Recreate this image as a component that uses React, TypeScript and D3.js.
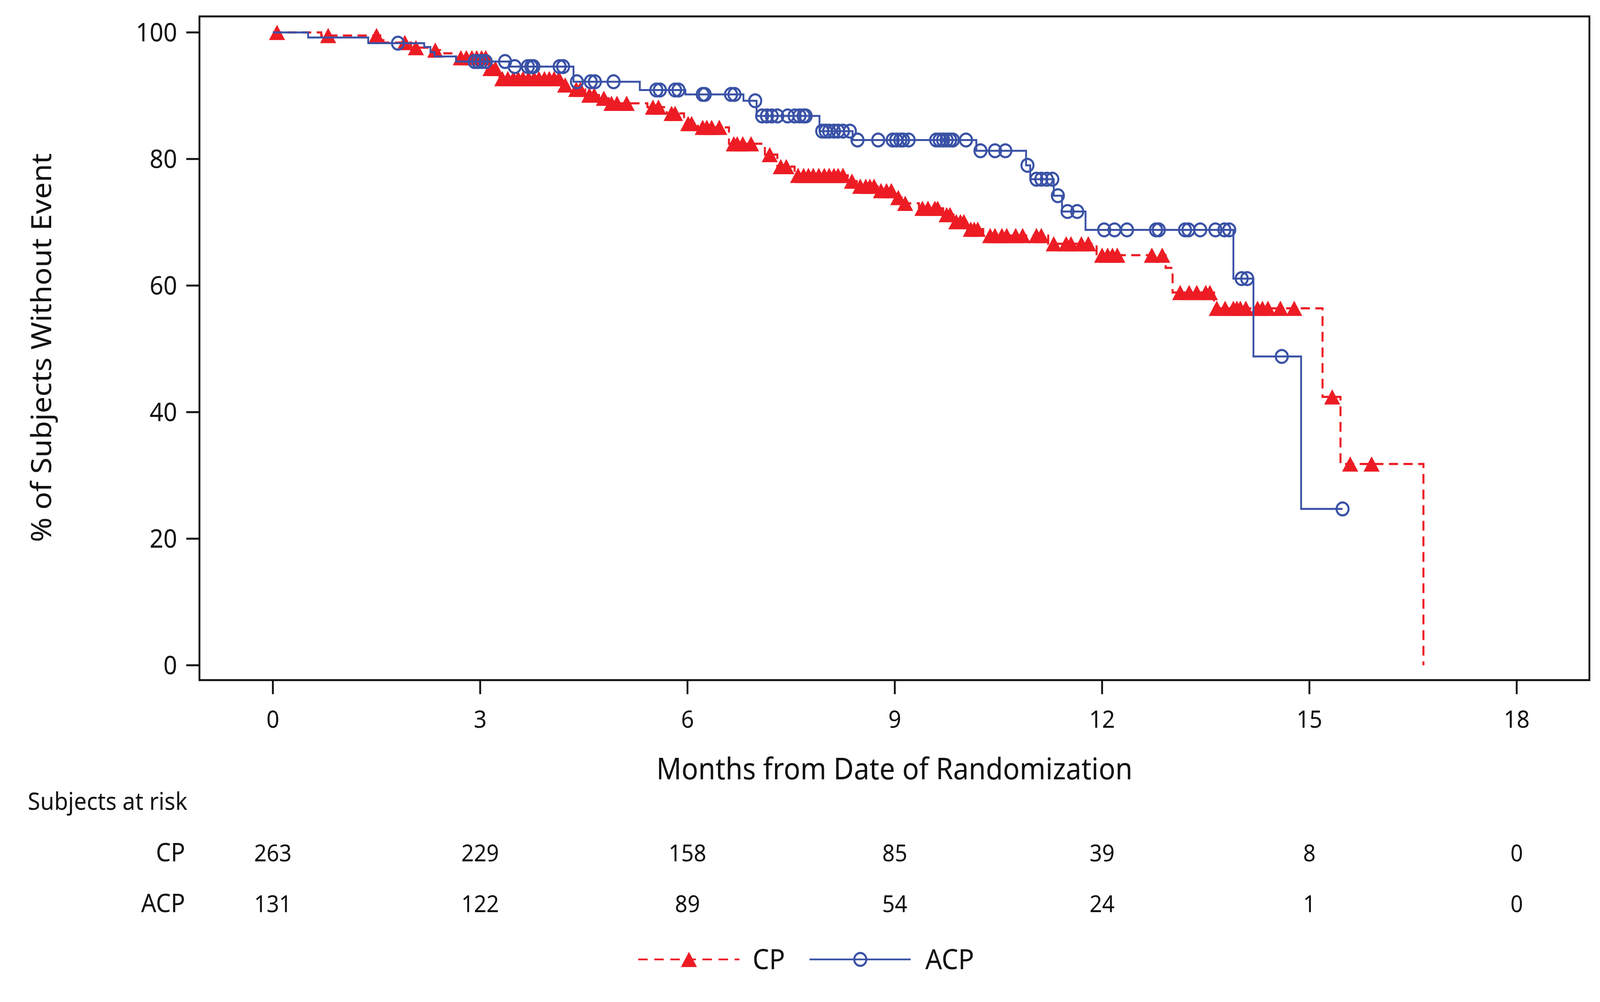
import React from "react";
import * as d3 from "d3";

// ---- Data ----
const cpStepTimes = [0, 0.70, 1.60, 2.00, 2.30, 2.42, 2.65, 3.12, 3.28, 4.18, 4.35, 4.52, 4.72, 4.86, 5.42, 5.70, 5.95, 6.15, 6.60, 7.12, 7.30, 7.55, 8.32, 8.45, 8.75, 9.02, 9.10, 9.35, 9.70, 9.85, 10.05, 10.28, 11.22, 11.92, 12.92, 13.02, 13.62, 15.19, 15.45, 16.65];
const cpStepValues = [100, 99.5, 98.4, 97.6, 97.2, 96.7, 96.0, 94.3, 92.7, 91.7, 91.0, 90.1, 89.6, 88.8, 88.2, 87.2, 85.6, 85.0, 82.4, 80.7, 78.8, 77.4, 76.5, 75.7, 75.0, 73.9, 73.0, 72.2, 71.2, 70.1, 68.9, 67.9, 66.6, 64.8, 62.8, 58.9, 56.4, 42.4, 31.8, 0];
const cpCensorTimes = [0.06, 0.80, 1.50, 1.91, 2.07, 2.35, 2.72, 2.80, 2.88, 2.95, 3.02, 3.08, 3.15, 3.22, 3.32, 3.40, 3.48, 3.55, 3.62, 3.70, 3.78, 3.85, 3.93, 4.00, 4.07, 4.14, 4.23, 4.39, 4.45, 4.58, 4.65, 4.79, 4.90, 4.98, 5.12, 5.50, 5.58, 5.77, 5.82, 6.01, 6.06, 6.22, 6.28, 6.35, 6.46, 6.67, 6.72, 6.80, 6.92, 7.19, 7.35, 7.43, 7.60, 7.68, 7.75, 7.82, 7.90, 7.98, 8.05, 8.12, 8.18, 8.25, 8.38, 8.50, 8.58, 8.64, 8.70, 8.80, 8.88, 8.95, 9.05, 9.15, 9.40, 9.48, 9.58, 9.62, 9.75, 9.80, 9.89, 9.95, 10.00, 10.10, 10.15, 10.20, 10.38, 10.45, 10.55, 10.62, 10.75, 10.85, 11.05, 11.12, 11.30, 11.48, 11.55, 11.70, 11.80, 12.00, 12.08, 12.15, 12.22, 12.72, 12.87, 13.13, 13.26, 13.37, 13.50, 13.56, 13.66, 13.78, 13.90, 13.95, 14.00, 14.08, 14.25, 14.32, 14.40, 14.58, 14.78, 15.33, 15.59, 15.90];

const acpStepTimes = [0, 0.51, 1.38, 2.19, 2.28, 2.34, 2.65, 3.42, 4.35, 5.31, 5.97, 6.81, 7.00, 7.91, 8.39, 10.18, 10.90, 10.96, 11.30, 11.42, 11.76, 13.90, 14.19, 14.88, 15.48];
const acpStepValues = [100, 99.2, 98.3, 97.7, 96.9, 96.2, 95.4, 94.6, 92.2, 90.9, 90.2, 89.2, 86.8, 84.4, 83.0, 81.3, 79.0, 76.8, 74.2, 71.7, 68.8, 61.1, 48.8, 24.7, 24.7];
const acpCensorTimes = [1.81, 2.92, 2.97, 3.02, 3.08, 3.36, 3.50, 3.69, 3.74, 3.77, 4.15, 4.20, 4.40, 4.60, 4.66, 4.93, 5.55, 5.60, 5.82, 5.87, 6.22, 6.25, 6.63, 6.68, 6.98, 7.08, 7.15, 7.22, 7.30, 7.45, 7.55, 7.62, 7.68, 7.71, 7.95, 8.00, 8.05, 8.12, 8.18, 8.25, 8.35, 8.46, 8.76, 8.97, 9.02, 9.08, 9.12, 9.20, 9.60, 9.65, 9.70, 9.75, 9.80, 9.84, 10.03, 10.24, 10.45, 10.60, 10.92, 11.05, 11.12, 11.20, 11.28, 11.36, 11.50, 11.64, 12.03, 12.18, 12.36, 12.78, 12.82, 13.20, 13.25, 13.42, 13.64, 13.77, 13.84, 14.02, 14.10, 14.60, 15.48];

const xTicks = [0, 3, 6, 9, 12, 15, 18];
const yTicks = [0, 20, 40, 60, 80, 100];
const riskTimes = [0, 3, 6, 9, 12, 15, 18];
const cpAtRisk = [263, 229, 158, 85, 39, 8, 0];
const acpAtRisk = [131, 122, 89, 54, 24, 1, 0];

const seriesNames = ["CP", "ACP"];
const xTitle = "Months from Date of Randomization";
const yTitle = "% of Subjects Without Event";
const riskTitle = "Subjects at risk";

// ---- Layout ----
const W = 4380;
const H = 2565;
const frame = { left: 546, right: 4351, top: 42, bottom: 1741 };
const RED = "#ed1c24";
const BLUE = "#3a52a6";
const INK = "#111";
const FONT = "'Noto Sans', 'Open Sans', sans-serif";

const x = d3.scaleLinear().domain([0, 18]).range([747, 4152]);
const y = d3.scaleLinear().domain([0, 100]).range([1703, 83]);

function survAt(times: number[], values: number[], t: number) {
  const i = Math.max(0, d3.bisectRight(times, t) - 1);
  return values[i];
}

const stepLine = d3
  .line<[number, number]>()
  .x((d) => x(d[0]))
  .y((d) => y(d[1]))
  .curve(d3.curveStepAfter);

const TRI_W = 44;
const TRI_H = 39;
const triPath = `M0,${-TRI_H / 2}L${TRI_W / 2},${TRI_H / 2}L${-TRI_W / 2},${TRI_H / 2}Z`;
const CIRC_R = 16.5;

function Triangle({ cx, cy }: { cx: number; cy: number }) {
  return <path d={triPath} transform={`translate(${cx},${cy})`} fill={RED} />;
}
function Circle({ cx, cy }: { cx: number; cy: number }) {
  return <circle cx={cx} cy={cy} r={CIRC_R} fill="none" stroke={BLUE} strokeWidth={5.5} />;
}

export default function App() {
  React.useEffect(() => {
    document.body.style.margin = "0";
    document.body.style.overflow = "hidden";
    document.documentElement.style.overflow = "hidden";
  }, []);

  const cpPts = cpStepTimes.map((t, i) => [t, cpStepValues[i]] as [number, number]);
  const acpPts = acpStepTimes.map((t, i) => [t, acpStepValues[i]] as [number, number]);

  const riskRows = [
    { name: seriesNames[0], vals: cpAtRisk, yb: 2205 },
    { name: seriesNames[1], vals: acpAtRisk, yb: 2335 },
  ];

  return (
    <svg
      viewBox={`0 0 ${W} ${H}`}
      preserveAspectRatio="none"
      style={{ position: "fixed", left: 0, top: 0, width: "100vw", height: "100vh", background: "#fff", display: "block" }}
      fontFamily={FONT}
    >
      <rect x={0} y={0} width={W} height={H} fill="#fff" />

      {/* CP curve */}
      <path
        d={stepLine(cpPts) || ""}
        fill="none"
        stroke={RED}
        strokeWidth={5.5}
        strokeDasharray="25,15"
      />
      {cpCensorTimes.map((t, i) => (
        <Triangle key={"c" + i} cx={x(t)} cy={y(survAt(cpStepTimes, cpStepValues, t))} />
      ))}

      {/* ACP curve */}
      <path d={stepLine(acpPts) || ""} fill="none" stroke={BLUE} strokeWidth={5} />
      {acpCensorTimes.map((t, i) => (
        <Circle key={"a" + i} cx={x(t)} cy={y(survAt(acpStepTimes, acpStepValues, t))} />
      ))}

      {/* Frame */}
      <rect
        x={frame.left}
        y={frame.top}
        width={frame.right - frame.left}
        height={frame.bottom - frame.top}
        fill="none"
        stroke={INK}
        strokeWidth={5}
      />

      {/* Y axis ticks */}
      {yTicks.map((v) => (
        <g key={"yt" + v}>
          <line x1={frame.left - 36} x2={frame.left} y1={y(v)} y2={y(v)} stroke={INK} strokeWidth={5} />
          <text x={485} y={y(v)} dy="0.35em" textAnchor="end" fontSize={66} fill={INK}>
            {v}
          </text>
        </g>
      ))}

      {/* X axis ticks */}
      {xTicks.map((v) => (
        <g key={"xt" + v}>
          <line x1={x(v)} x2={x(v)} y1={frame.bottom} y2={frame.bottom + 36} stroke={INK} strokeWidth={5} />
          <text x={x(v)} y={1863} textAnchor="middle" fontSize={62} fill={INK}>
            {v}
          </text>
        </g>
      ))}

      {/* Axis titles */}
      <text x={(frame.left + frame.right) / 2} y={1995} textAnchor="middle" fontSize={76} fill={INK}>
        {xTitle}
      </text>
      <text
        transform={`translate(140, 890) rotate(-90)`}
        textAnchor="middle"
        fontSize={76}
        fill={INK}
      >
        {yTitle}
      </text>

      {/* Risk table */}
      <text x={76} y={2073} fontSize={62} fill={INK}>
        {riskTitle}
      </text>
      {riskRows.map((row) => (
        <g key={row.name}>
          <text x={507} y={row.yb} textAnchor="end" fontSize={65} fill={INK}>
            {row.name}
          </text>
          {row.vals.map((n, i) => (
            <text key={i} x={x(riskTimes[i])} y={row.yb} textAnchor="middle" fontSize={60} fill={INK}>
              {n}
            </text>
          ))}
        </g>
      ))}

      {/* Legend */}
      <g>
        <line x1={1747} x2={2024} y1={2456} y2={2456} stroke={RED} strokeWidth={4.5} strokeDasharray="26,18" />
        <Triangle cx={1886} cy={2456} />
        <text x={2060} y={2481} fontSize={72} fill={INK}>
          {seriesNames[0]}
        </text>
        <line x1={2216} x2={2493} y1={2456} y2={2456} stroke={BLUE} strokeWidth={4.5} />
        <Circle cx={2355} cy={2456} />
        <text x={2533} y={2481} fontSize={72} fill={INK}>
          {seriesNames[1]}
        </text>
      </g>
    </svg>
  );
}
